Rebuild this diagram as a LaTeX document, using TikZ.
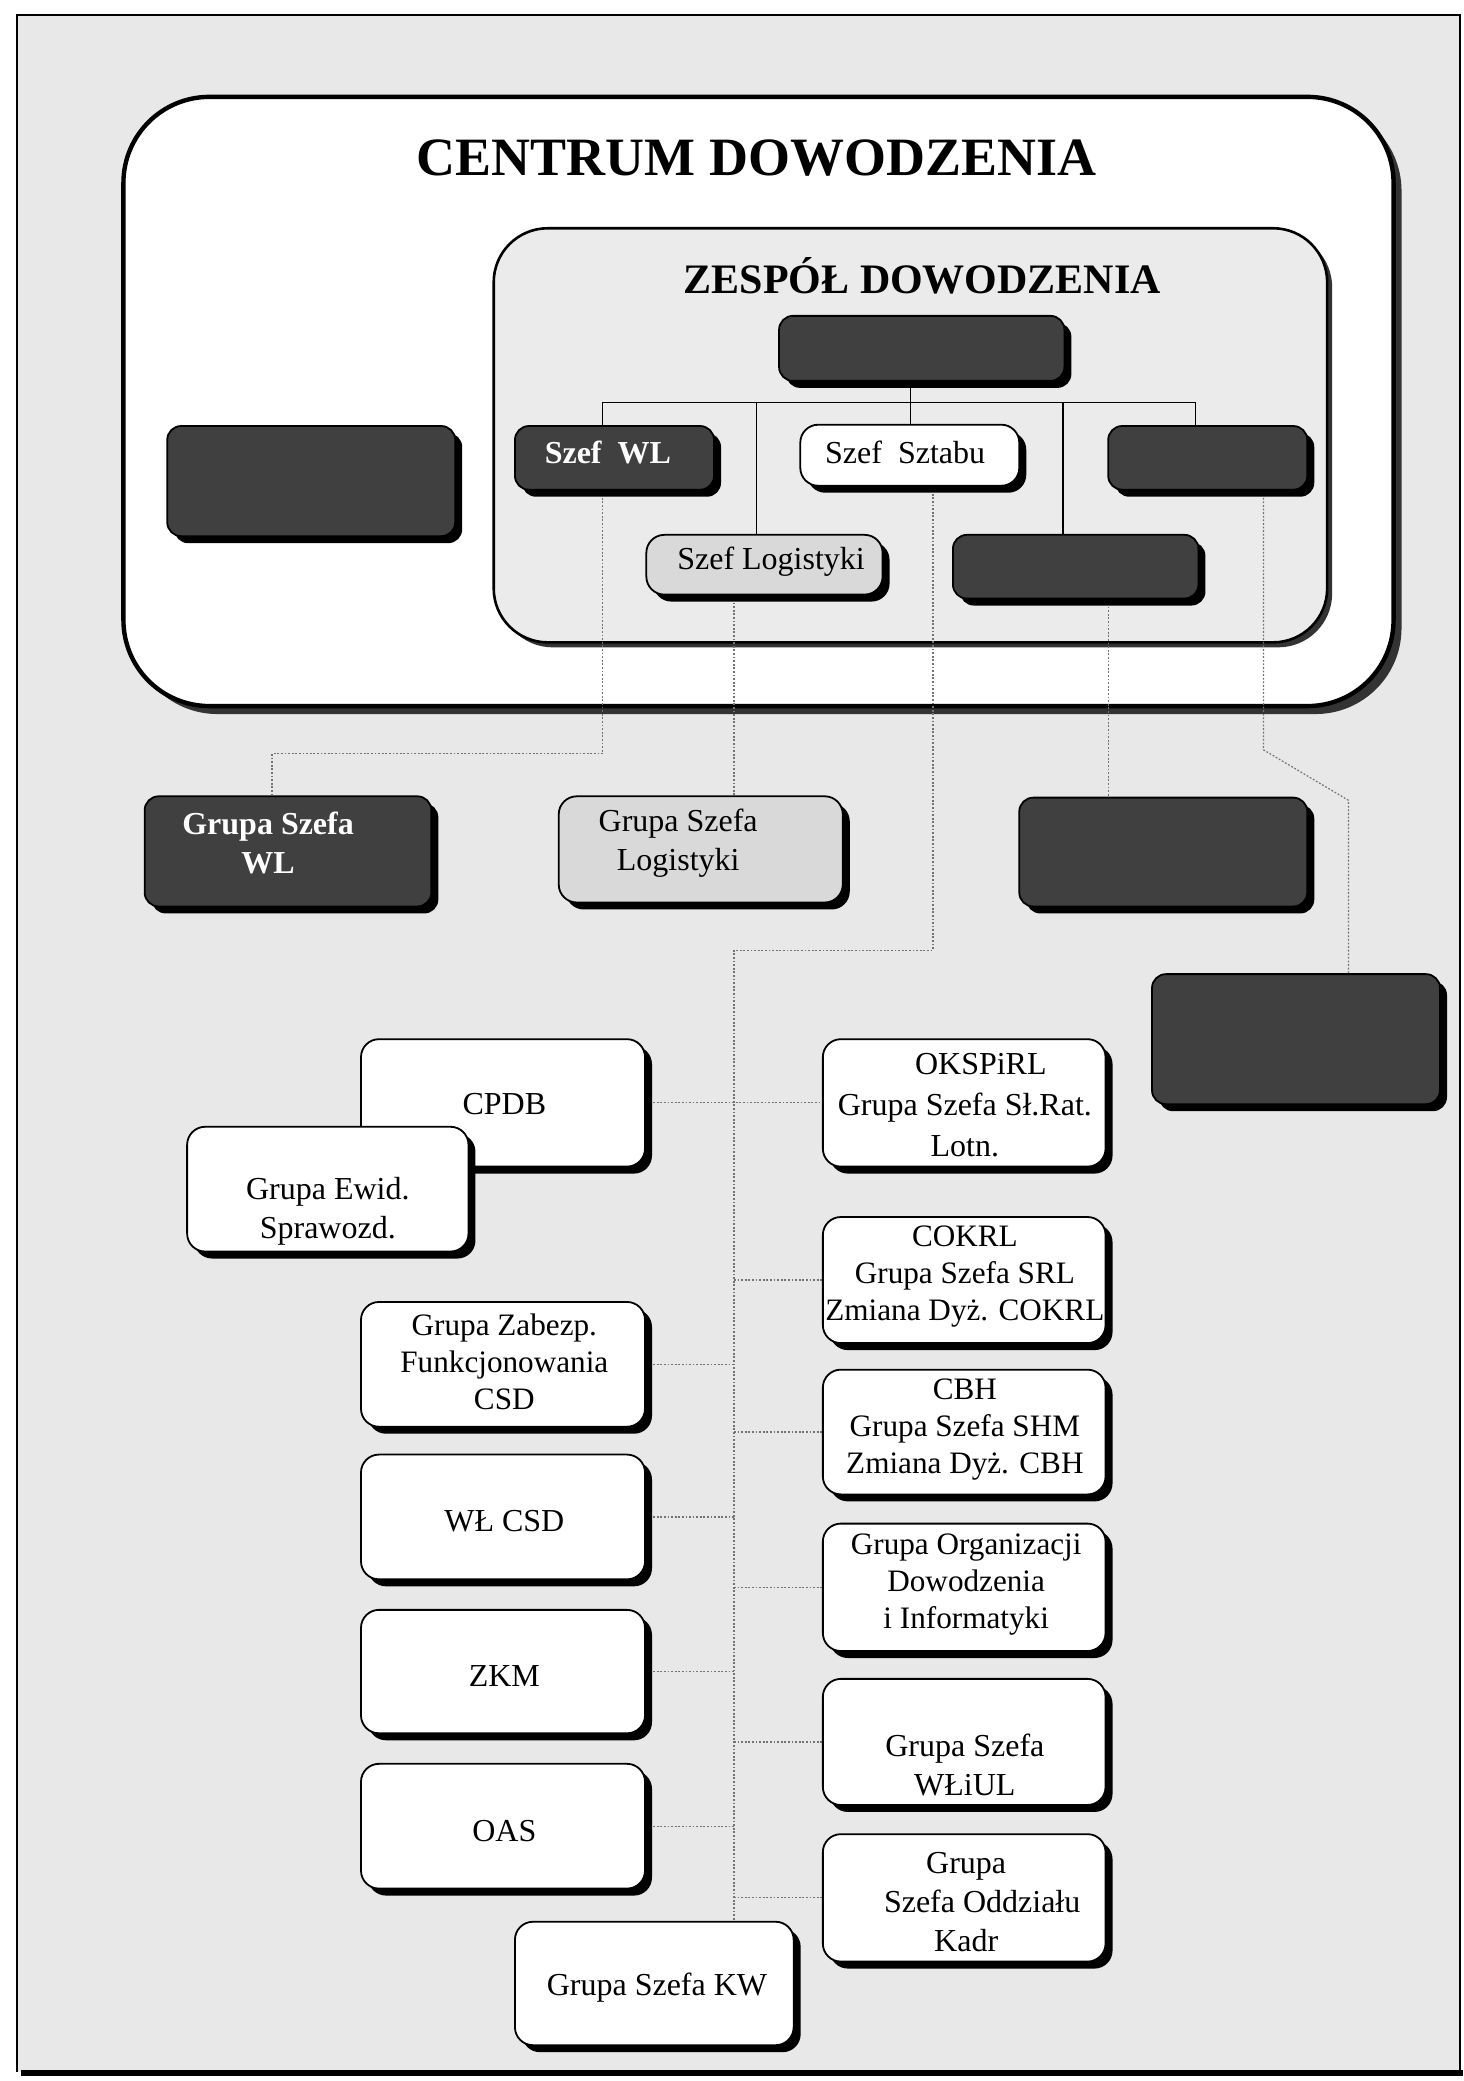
\documentclass[tikz,border=0pt]{standalone}
\usepackage{fontspec}
\setmainfont{Liberation Serif}
\usetikzlibrary{shadows,calc}
\definecolor{pagebg}{gray}{0.91}
\definecolor{inbg}{gray}{0.92}
\definecolor{lightfill}{gray}{0.85}
\definecolor{darkfill}{gray}{0.25}
\definecolor{dotcol}{gray}{0.45}
\pgfdeclarelayer{page}
\pgfdeclarelayer{bottom}
\pgfdeclarelayer{conn}
\pgfsetlayers{page,bottom,conn,main}
\newcommand\bx[6]{\node[#2, minimum width={(#5-#3)*0.6638pt}, minimum height={(#6-#4)*0.6638pt}] (#1) at ({(#3+#5)/2},{(#4+#6)/2}) {};}
\begin{document}
\begin{tikzpicture}[x=0.6638pt,y=-0.6638pt,
  sh/.style={drop shadow={shadow xshift=3.5pt,shadow yshift=-3.5pt,opacity=1,fill=black}},
  box/.style={draw=black,line width=0.9pt,fill=white,rounded corners=9pt,inner sep=0pt,sh},
  darkbox/.style={box,fill=darkfill,rounded corners=7pt},
  lightbox/.style={box,fill=lightfill},
  outerbox/.style={draw=black,line width=2.2pt,fill=white,rounded corners=43pt,inner sep=0pt,
    drop shadow={shadow xshift=4pt,shadow yshift=-4pt,opacity=1,fill=black!80}},
  innerbox/.style={draw=black,line width=1.3pt,fill=inbg,rounded corners=27pt,inner sep=0pt,
    drop shadow={shadow xshift=2.5pt,shadow yshift=-2.5pt,opacity=1,fill=black!80}},
  txt/.style={inner sep=0pt,align=center,font=\fontsize{16}{19.5}\selectfont},
  txtr/.style={inner sep=0pt,align=center,font=\fontsize{15.6}{18.6}\selectfont},
  wtxt/.style={inner sep=0pt,align=center,text=white,font=\fontsize{16}{19.5}\selectfont\bfseries},
  link/.style={line width=0.6pt,draw=black},
  dotlink/.style={line width=0.6pt,draw=dotcol,dash pattern=on 0.9pt off 0.9pt},
]
\useasboundingbox (0,0) rectangle (1102.35,1568);
% page
\begin{pgfonlayer}{page}
\fill[white] (0,0) rectangle (1102.35,1568);
\fill[pagebg] (13,11) rectangle (1100,1561);
\draw[line width=1pt] (13,1561) -- (13,11) -- (1100,11) -- (1100,1561);
\draw[line width=2.6pt] (16,1562) -- (1102,1562);
\end{pgfonlayer}

% containers
\begin{pgfonlayer}{bottom}
\bx{centrum}{outerbox}{93}{73}{1050}{532}
\bx{zespol}{innerbox}{372}{172}{1000}{484}
\end{pgfonlayer}
\node[inner sep=0pt,anchor=base,font=\fontsize{27}{30}\selectfont\bfseries] (tcen) at (570,132) {CENTRUM DOWODZENIA};
\node[inner sep=0pt,anchor=base,font=\fontsize{21}{24}\selectfont\bfseries] (tzes) at (695,221) {ZESPÓŁ DOWODZENIA};

% boxes inside
\bx{dowodca}{darkbox}{587}{238}{802}{287}
\bx{szefwl}{darkbox}{388}{321}{538}{369}
\bx{szefsztabu}{box}{603}{320}{768}{366}
\bx{rtop}{darkbox}{835}{321}{985}{369}
\bx{szeflog}{lightbox}{487}{403}{665}{448}
\bx{lowdark}{darkbox}{718}{403}{903}{451}
\bx{leftdark}{darkbox}{126}{321}{343}{404}

% second row
\bx{gswl}{darkbox}{109}{600}{325}{683}
\bx{gslog}{lightbox}{421}{600}{635}{680}
\bx{gdark}{darkbox}{768}{601}{985}{683}
\bx{gfar}{darkbox}{868}{734}{1085}{832}

% left column
\bx{cpdb}{box}{272}{783}{486}{879}
\bx{ewid}{box}{141}{849}{353}{943}
\bx{zabezp}{box}{272}{981}{486}{1075}
\bx{wlcsd}{box}{272}{1096}{486}{1190}
\bx{zkm}{box}{272}{1213}{486}{1306}
\bx{oas}{box}{272}{1329}{486}{1423}
\bx{kw}{box}{388}{1448}{598}{1541}

% right column
\bx{okspirl}{box}{620}{783}{833}{879}
\bx{cokrl}{box}{620}{917}{833}{1012}
\bx{cbh}{box}{620}{1032}{833}{1126}
\bx{god}{box}{620}{1148}{833}{1244}
\bx{wliul}{box}{620}{1265}{833}{1360}
\bx{kadr}{box}{620}{1382}{833}{1478}

% texts
\node[wtxt] (t-szefwl) at (458,341) {Szef\ \ WL};
\node[txt] (t-sztab) at (682,341) {Szef\ \ Sztabu};
\node[txt] (t-szeflog) at (581,423) {Szef Logistyki};
\node[wtxt] (t-gswl) at (202,635) {Grupa Szefa\\WL};
\node[txt] (t-gslog) at (511,635) {Grupa Szefa\\Logistyki};
\node[txt] (t-cpdb) at (380,832) {CPDB};
\node[txt] (t-ewid) at (247,913) {Grupa Ewid.\\Sprawozd.};
\node[txtr] (t-zab) at (380,1026) {Grupa Zabezp.\\Funkcjonowania\\CSD};
\node[txt] (t-wlcsd) at (380,1146) {WŁ CSD};
\node[txt] (t-zkm) at (380,1263) {ZKM};
\node[txt] (t-oas) at (380,1380) {OAS};
\node[txt] (t-kw) at (495,1498) {Grupa Szefa KW};
\node[txt,font=\fontsize{16}{20.5}\selectfont] (t-oks) at (727,833) {\hspace*{16pt}OKSPiRL\\Grupa Szefa Sł.Rat.\\Lotn.};
\node[txtr] (t-cokrl) at (727,962) {COKRL\\Grupa Szefa SRL\\Zmiana Dyż. COKRL};
\node[txtr] (t-cbh) at (727,1077) {CBH\\Grupa Szefa SHM\\Zmiana Dyż. CBH};
\node[txtr] (t-god) at (728,1194) {Grupa Organizacji\\Dowodzenia\\i Informatyki};
\node[txt] (t-wliul) at (727,1330) {Grupa Szefa\\WŁiUL};
\node[txt] (t-kadr) at (728,1433) {Grupa\\\hspace*{16pt}Szefa Oddziału\\Kadr};

% connectors
\coordinate (h1) at (454,303);
\coordinate (h2) at (901,303);
\coordinate (hc) at (686,303);
\coordinate (h3) at (570,303);
\coordinate (h4) at (801,303);
\coordinate (k1) at (454,568);
\coordinate (k2) at (205,568);
\coordinate (k3) at (553,716);
\coordinate (k4) at (703,716);
\coordinate (k5) at (835,600);
\coordinate (k6) at (952,565);
\coordinate (k7) at (1016,603);
\begin{pgfonlayer}{conn}
\draw[link] (dowodca.south -| hc) -- (szefsztabu.north -| hc);
\draw[link] (h1) -- (h2);
\draw[link] (h1) -- (szefwl.north -| h1);
\draw[link] (h3) -- (szeflog.north -| h3);
\draw[link] (h4) -- (lowdark.north -| h4);
\draw[link] (h2) -- (rtop.north -| h2);
\draw[dotlink] (szefwl.south -| k1) -- (k1) -- (k2) -- (gswl.north -| k2);
\draw[dotlink] (szeflog.south -| k3) -- (gslog.north -| k3);
\draw[dotlink] (szefsztabu.south -| k4) -- (k4) -- (k3) -- (kw.north -| k3);
\draw[dotlink] (lowdark.south -| k5) -- (gdark.north -| k5);
\draw[dotlink] (rtop.south -| k6) -- (k6) -- (k7) -- (gfar.north -| k7);
\draw[dotlink] (cpdb.east) -- (okspirl.west);
\draw[dotlink] (zabezp.east) -- (zabezp.east -| k3);
\draw[dotlink] (wlcsd.east) -- (wlcsd.east -| k3);
\draw[dotlink] (zkm.east) -- (zkm.east -| k3);
\draw[dotlink] (oas.east) -- (oas.east -| k3);
\draw[dotlink] (cokrl.west -| k3) -- (cokrl.west);
\draw[dotlink] (cbh.west -| k3) -- (cbh.west);
\draw[dotlink] (god.west -| k3) -- (god.west);
\draw[dotlink] (wliul.west -| k3) -- (wliul.west);
\draw[dotlink] (kadr.west -| k3) -- (kadr.west);
\end{pgfonlayer}
\end{tikzpicture}
\end{document}
